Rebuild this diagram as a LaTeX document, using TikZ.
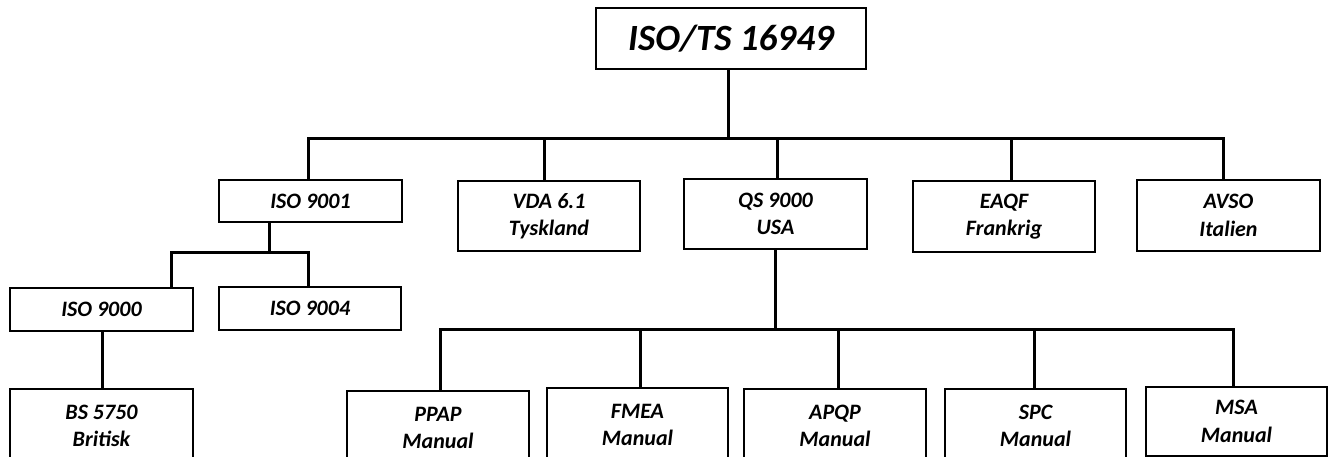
\documentclass[tikz,border=0pt]{standalone}
\usepackage{fontspec}
\setmainfont{Carlito}
\begin{document}
\begin{tikzpicture}[x=1pt,y=-1pt,
  box/.style={draw=black, line width=1.3pt, inner sep=0pt, align=center,
    minimum width=182pt, font=\bfseries\itshape\fontsize{22}{27.5}\selectfont},
  onebox/.style={box, minimum height=42pt},
  twobox/.style={box, minimum height=70pt},
  lowbox/.style={box, minimum height=74pt},
  titlebox/.style={draw=black, line width=1.3pt, inner sep=0pt,
    minimum width=270pt, minimum height=61pt,
    font=\bfseries\itshape\fontsize{37}{44}\selectfont},
  conn/.style={line width=3pt, black}]
\useasboundingbox (0,0) rectangle (1328,457);
\fill[white] (0,0) rectangle (1328,457);

% top
\node[titlebox] (top) at (731,38.5) {ISO/TS 16949};

% level 2
\node[onebox, minimum width=183pt] (iso9001) at (310.5,201) {ISO 9001};
\node[twobox] (vda) at (549,216) {VDA 6.1\\Tyskland};
\node[twobox, minimum width=183pt] (qs) at (775.5,214) {QS 9000\\USA};
\node[twobox, minimum height=71pt] (eaqf) at (1004,216.5) {EAQF\\Frankrig};
\node[twobox, minimum width=183pt, minimum height=71pt] (avso) at (1228.5,215.5) {AVSO\\Italien};

% ISO 9001 subtree
\node[onebox, minimum width=183pt, minimum height=43pt] (iso9000) at (101.5,309.5) {ISO 9000};
\node[onebox, minimum height=43pt] (iso9004) at (310,308.5) {ISO 9004};
\node[lowbox, minimum width=183pt] (bs) at (101.5,426) {BS 5750\\Britisk};

% QS subtree
\node[lowbox] (ppap) at (438,428) {PPAP\\Manual};
\node[lowbox, minimum width=181pt] (fmea) at (637.5,425) {FMEA\\Manual};
\node[lowbox] (apqp) at (835,426) {APQP\\Manual};
\node[lowbox, minimum width=181pt] (spc) at (1035.5,426) {SPC\\Manual};
\node[box, minimum width=181pt, minimum height=69pt] (msa) at (1236.5,421.5) {MSA\\Manual};

% connectors from top
\draw[conn] ([xshift=-3pt]top.south) -- ++(0,69) -| ([xshift=-2.5pt]iso9001.north);
\draw[conn] ([xshift=-3pt]top.south) -- ++(0,69) -| ([xshift=-5pt]vda.north);
\draw[conn] ([xshift=-3pt]top.south) -- ++(0,69) -| ([xshift=1.5pt]qs.north);
\draw[conn] ([xshift=-3pt]top.south) -- ++(0,69) -| ([xshift=7pt]eaqf.north);
\draw[conn] ([xshift=-3pt]top.south) -- ++(0,69) -| ([xshift=-5.5pt]avso.north);

% ISO 9001 children
\draw[conn] ([xshift=-41.5pt]iso9001.south) -- ++(0,30) -| ([xshift=69.5pt]iso9000.north);
\draw[conn] ([xshift=-41.5pt]iso9001.south) -- ++(0,30) -| ([xshift=-2pt]iso9004.north);
\draw[conn] ([xshift=0.5pt]iso9000.south) -- ([xshift=0.5pt]bs.north);

% QS children
\draw[conn] (qs.south) -- ++(0,80) -| ([xshift=2pt]ppap.north);
\draw[conn] (qs.south) -- ++(0,80) -| ([xshift=2.5pt]fmea.north);
\draw[conn] (qs.south) -- ++(0,80) -| ([xshift=3pt]apqp.north);
\draw[conn] (qs.south) -- ++(0,80) -| ([xshift=-1.5pt]spc.north);
\draw[conn] (qs.south) -- ++(0,80) -| ([xshift=-3.5pt]msa.north);
\end{tikzpicture}
\end{document}
